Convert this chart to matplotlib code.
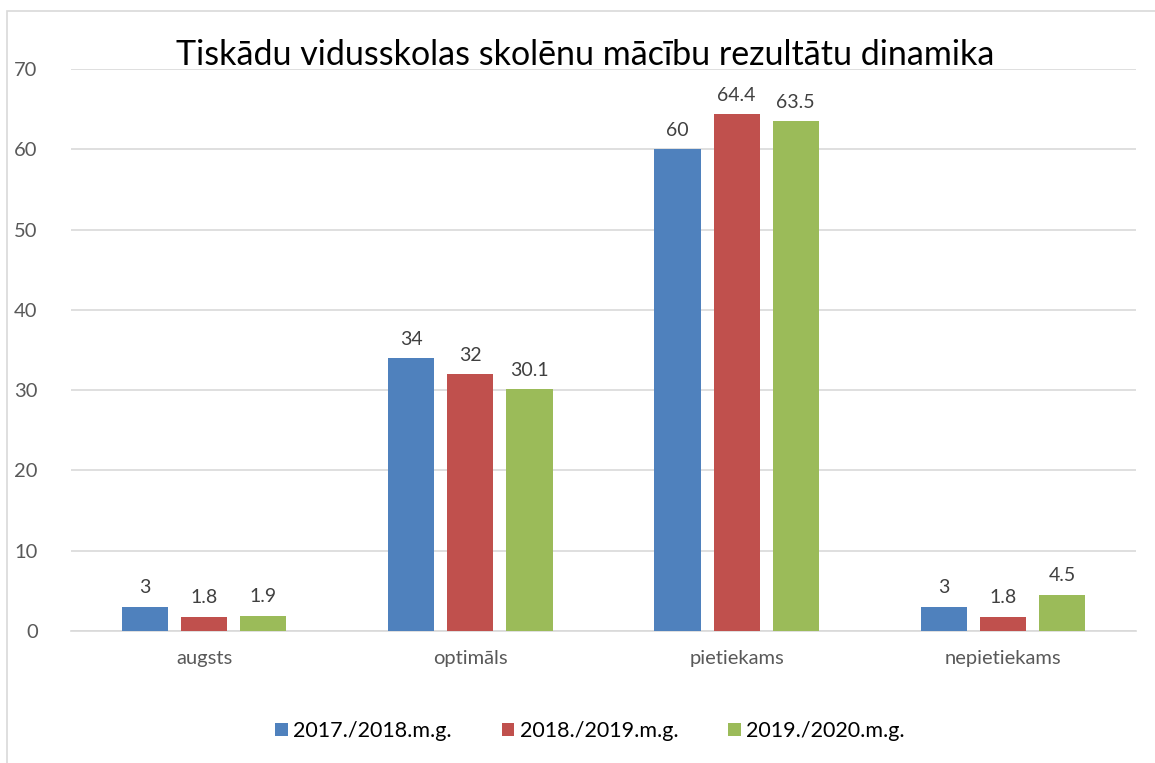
import matplotlib.pyplot as plt
import numpy as np
from matplotlib.patches import Rectangle

plt.rcParams['font.family'] = ['Lato', 'DejaVu Sans']

# data
categories = ['augsts', 'optimāls', 'pietiekams', 'nepietiekams']
series_names = ['2017./2018.m.g.', '2018./2019.m.g.', '2019./2020.m.g.']
v_2017 = [3, 34, 60, 3]
v_2018 = [1.8, 32, 64.4, 1.8]
v_2019 = [1.9, 30.1, 63.5, 4.5]
colors = ['#4F81BD', '#C0504D', '#9BBB59']

W, H = 1155, 763
fig = plt.figure(figsize=(W / 100, H / 100), dpi=100)
ax = fig.add_axes([71 / W, 1 - 631 / H, (1136 - 71) / W, (631 - 69) / H])

x = np.arange(len(categories))
bw = 0.173
step = 0.222
for i, (vals, name) in enumerate(zip([v_2017, v_2018, v_2019], series_names)):
    pos = x + (i - 1) * step
    bars = ax.bar(pos, vals, width=bw, color=colors[i], label=name, zorder=3)
    for b, v in zip(bars, vals):
        ax.text(b.get_x() + b.get_width() / 2, v + 1.3, f'{v:g}',
                ha='center', va='bottom', fontsize=14, color='#404040')

ax.set_xlim(-0.5, len(categories) - 0.5)
ax.set_ylim(0, 70)
ax.set_yticks(range(0, 71, 10))
ax.set_xticks(x)
ax.set_xticklabels(categories)
ax.grid(axis='y', color='#D9D9D9', linewidth=1.2, zorder=0)
for s in ['top', 'right', 'left']:
    ax.spines[s].set_visible(False)
ax.spines['bottom'].set_color('#D9D9D9')
ax.spines['bottom'].set_linewidth(1.2)
ax.tick_params(axis='both', length=0, labelsize=14.5, colors='#595959')
ax.tick_params(axis='x', pad=14)
ax.tick_params(axis='y', pad=24)

fig.text(585 / W, 1 - 55 / H, 'Tiskādu vidusskolas skolēnu mācību rezultātu dinamika',
         ha='center', va='center', fontsize=24.5, color='black')

fig.legend(loc='center', bbox_to_anchor=(590 / W, 1 - 731 / H), ncol=3,
           frameon=False, fontsize=15.5, handlelength=0.6, handleheight=0.6,
           columnspacing=2.3, handletextpad=0.25)

fig.patches.append(Rectangle((7 / W, -0.05), 1.2, 1 - 11 / H + 0.05,
                             transform=fig.transFigure, fill=False,
                             edgecolor='#D9D9D9', linewidth=1.2))

fig.savefig('out.png', dpi=100)
